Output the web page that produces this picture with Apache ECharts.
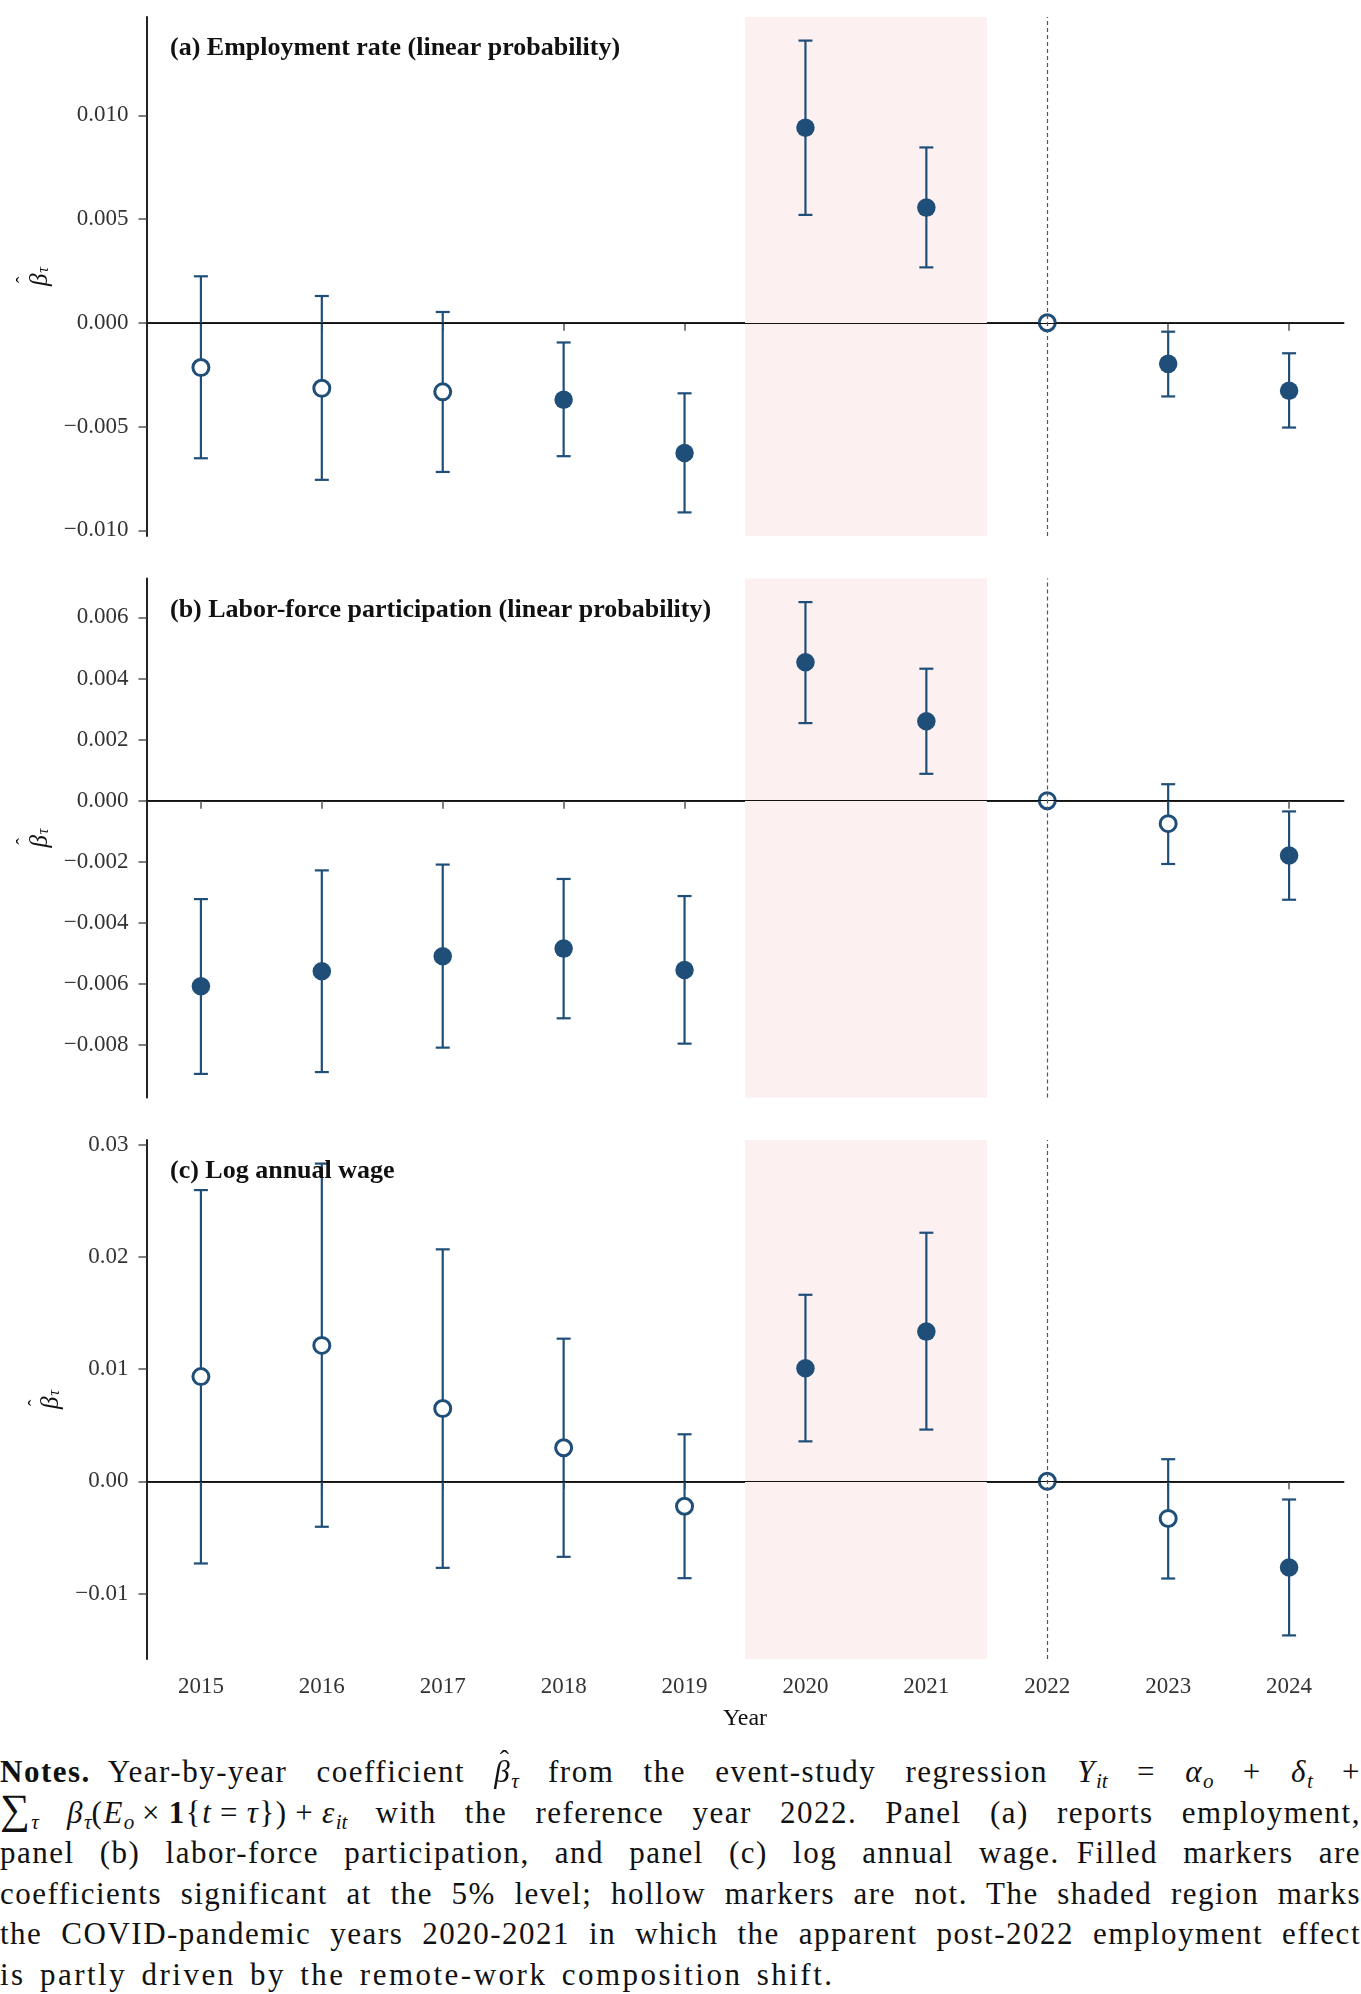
<!DOCTYPE html>
<html>
<head>
<meta charset="utf-8">
<script src="https://cdn.jsdelivr.net/npm/echarts@6/dist/echarts.min.js"></script>
<style>
body { margin: 0; background: #fff; }
#eventStudyChart { position: absolute; left: 0; top: 0; width: 1361px; height: 1745px; }
#notes { position: absolute; left: 0; top: 1752px; width: 1361px; font-family: 'Liberation Serif', serif; font-size: 31px; line-height: 40.6px; color: #111; letter-spacing: 1.5px; word-spacing: 4px; }
#notes .ln { white-space: nowrap; text-align: justify; text-align-last: justify; height: 40.6px; }
#notes .ln.last { text-align-last: left; letter-spacing: 2.5px; }
#notes sub { font-size: 0.68em; line-height: 0; vertical-align: -0.3em; letter-spacing: 0; }
#notes .sum { font-size: 1.35em; line-height: 0; }
#notes .hat { position: relative; display: inline-block; }
#notes .hc { position: absolute; left: 0.2em; top: -0.42em; font-size: 0.9em; }
</style>
</head>
<body>
<div id="eventStudyChart"></div>
<div id="notes">
  <div class="ln"><b>Notes.</b>&ensp;Year-by-year coefficient <span class="hat"><i>β</i><span class="hc">ˆ</span></span><sub><i>τ</i></sub> from the event-study regression <i>Y</i><sub><i>it</i></sub> = <i>α</i><sub><i>o</i></sub> + <i>δ</i><sub><i>t</i></sub> +</div>
  <div class="ln"><span class="sum">∑</span><sub><i>τ</i></sub> <i>β</i><sub><i>τ</i></sub>(<i>E</i><sub><i>o</i></sub>&thinsp;×&thinsp;<b>1</b>{<i>t</i>&thinsp;=&thinsp;<i>τ</i>})&thinsp;+&thinsp;<i>ε</i><sub><i>it</i></sub> with the reference year 2022. Panel (a) reports employment,</div>
  <div class="ln">panel (b) labor-force participation, and panel (c) log annual wage.&ensp;Filled markers are</div>
  <div class="ln">coefficients significant at the 5% level; hollow markers are not. The shaded region marks</div>
  <div class="ln">the COVID-pandemic years 2020-2021 in which the apparent post-2022 employment effect</div>
  <div class="ln last">is partly driven by the remote-work composition shift.</div>
</div>
<script>
var years = [2015, 2016, 2017, 2018, 2019, 2020, 2021, 2022, 2023, 2024];

// (a) employment rate
var empCoef = [-0.00216, -0.00316, -0.00333, -0.00371, -0.00628, 0.0094, 0.00555, 0, -0.00198, -0.00328];
var empLo = [-0.00653, -0.00757, -0.00719, -0.00643, -0.00914, 0.0052, 0.00267, null, -0.00355, -0.00505];
var empHi = [0.00224, 0.00129, 0.00052, -0.00095, -0.0034, 0.0136, 0.00845, null, -0.00043, -0.00147];
var empSig = [0, 0, 0, 1, 1, 1, 1, 0, 1, 1];
var empTicks = [-0.010, -0.005, 0, 0.005, 0.010];
var empTickLabels = ['\u22120.010', '\u22120.005', '0.000', '0.005', '0.010'];

// (b) labor-force participation
var lfpCoef = [-0.00607, -0.00558, -0.00509, -0.00484, -0.00554, 0.00453, 0.0026, 0, -0.00075, -0.00179];
var lfpLo = [-0.00894, -0.00888, -0.00808, -0.00712, -0.00795, 0.00254, 0.00088, null, -0.00207, -0.00324];
var lfpHi = [-0.00322, -0.00228, -0.00209, -0.00256, -0.00312, 0.0065, 0.00432, null, 0.00054, -0.00035];
var lfpSig = [1, 1, 1, 1, 1, 1, 1, 0, 0, 1];
var lfpTicks = [-0.008, -0.006, -0.004, -0.002, 0, 0.002, 0.004, 0.006];
var lfpTickLabels = ['\u22120.008', '\u22120.006', '\u22120.004', '\u22120.002', '0.000', '0.002', '0.004', '0.006'];

// (c) log annual wage
var wageCoef = [0.00933, 0.01211, 0.00648, 0.00299, -0.00222, 0.01007, 0.01334, 0, -0.00331, -0.00768];
var wageLo = [-0.00732, -0.00405, -0.00771, -0.00673, -0.00863, 0.00356, 0.00461, null, -0.00866, -0.01373];
var wageHi = [0.02595, 0.02831, 0.02067, 0.01271, 0.00419, 0.01662, 0.02215, null, 0.00197, -0.00162];
var wageSig = [0, 0, 0, 0, 0, 1, 1, 0, 0, 1];
var wageTicks = [-0.01, 0, 0.01, 0.02, 0.03];
var wageTickLabels = ['\u22120.01', '0.00', '0.01', '0.02', '0.03'];

var panelTitles = ['(a) Employment rate (linear probability)', '(b) Labor-force participation (linear probability)', '(c) Log annual wage'];
var covidStart = 2019.5, covidEnd = 2021.5, refYear = 2022;

var BLUE = '#1f4e79';
var SERIF = "'Liberation Serif', 'Times New Roman', serif";
var gridTops = [17, 578.5, 1140];
var gridHeight = 519;

var yRange = function (lo, hi, coef) {
    var all = lo.concat(hi, coef).filter(function (v) { return v !== null; });
    var a = Math.min.apply(null, all), b = Math.max.apply(null, all);
    var pad = (b - a) * 0.05;
    return [a - pad, b + pad];
};

var renderErrorBar = function (params, api) {
    var top = api.coord([api.value(0), api.value(2)]);
    var bot = api.coord([api.value(0), api.value(1)]);
    var hw = 7;
    var style = { stroke: BLUE, lineWidth: 2.2, fill: null };
    return {
        type: 'group',
        children: [
            { type: 'line', shape: { x1: top[0], y1: top[1], x2: bot[0], y2: bot[1] }, style: style },
            { type: 'line', shape: { x1: top[0] - hw, y1: top[1], x2: top[0] + hw, y2: top[1] }, style: style },
            { type: 'line', shape: { x1: bot[0] - hw, y1: bot[1], x2: bot[0] + hw, y2: bot[1] }, style: style }
        ]
    };
};

var panels = [
    { coef: empCoef, lo: empLo, hi: empHi, sig: empSig, ticks: empTicks, labels: empTickLabels },
    { coef: lfpCoef, lo: lfpLo, hi: lfpHi, sig: lfpSig, ticks: lfpTicks, labels: lfpTickLabels },
    { coef: wageCoef, lo: wageLo, hi: wageHi, sig: wageSig, ticks: wageTicks, labels: wageTickLabels }
];

var option = {
    animation: false,
    backgroundColor: '#fff',
    title: [],
    grid: [],
    xAxis: [],
    yAxis: [],
    series: []
};

panels.forEach(function (p, k) {
    var range = yRange(p.lo, p.hi, p.coef);
    var isBottom = k === panels.length - 1;
    option.title.push({
        text: panelTitles[k],
        left: 170,
        top: gridTops[k] + 18.5,
        padding: 0,
        textStyle: { fontFamily: SERIF, fontWeight: 'bold', fontSize: 26, color: '#111' }
    });
    option.grid.push({ left: 146.5, right: 17.5, top: gridTops[k], height: gridHeight });
    option.xAxis.push({
        type: 'value',
        gridIndex: k,
        min: 2014.55,
        max: 2024.45,
        name: isBottom ? 'Year' : '',
        nameLocation: 'middle',
        nameGap: 48,
        nameTextStyle: { fontFamily: SERIF, fontSize: 24, color: '#111' },
        axisLine: { lineStyle: { color: '#222', width: 2 } },
        axisTick: { customValues: years, length: 8, lineStyle: { color: '#555', width: 1.5 } },
        axisLabel: {
            show: isBottom,
            customValues: years,
            margin: 16,
            fontFamily: SERIF,
            fontSize: 23,
            color: '#333',
            formatter: function (v) { return String(Math.round(v)); }
        },
        splitLine: { show: false }
    });
    option.yAxis.push({
        type: 'value',
        gridIndex: k,
        min: range[0],
        max: range[1],
        name: '{h|ˆ}\n{b|β}{s|τ}',
        nameLocation: 'middle',
        nameRotate: 90,
        nameGap: 82,
        nameTextStyle: {
            rich: {
                h: { fontFamily: SERIF, fontSize: 20, lineHeight: 7, color: '#111', padding: [0, 7, 0, 0] },
                b: { fontFamily: SERIF, fontStyle: 'italic', fontSize: 25, lineHeight: 22, color: '#111' },
                s: { fontFamily: SERIF, fontStyle: 'italic', fontSize: 16, lineHeight: 22, color: '#111', verticalAlign: 'bottom', padding: [8, 0, 0, 1] }
            }
        },
        axisLine: { show: true, lineStyle: { color: '#222', width: 2 } },
        axisTick: { show: true, customValues: p.ticks, length: 8, lineStyle: { color: '#555', width: 1.5 } },
        axisLabel: {
            customValues: p.ticks,
            margin: 18,
            fontFamily: SERIF,
            fontSize: 23,
            color: '#333',
            formatter: function (v) {
                for (var i = 0; i < p.ticks.length; i++) {
                    if (Math.abs(p.ticks[i] - v) < 1e-9) return p.labels[i];
                }
                return '';
            }
        },
        splitLine: { show: false }
    });

    var bars = [], filled = [], hollow = [];
    years.forEach(function (y, i) {
        if (p.lo[i] !== null) bars.push([y, p.lo[i], p.hi[i]]);
        if (p.sig[i]) filled.push([y, p.coef[i]]);
        else hollow.push([y, p.coef[i]]);
    });

    option.series.push({
        type: 'line', xAxisIndex: k, yAxisIndex: k, data: [], z: 0, silent: true,
        markArea: {
            silent: true,
            itemStyle: { color: '#fdf0f0' },
            data: [[{ xAxis: covidStart }, { xAxis: covidEnd }]]
        }
    });
    option.series.push({
        type: 'line', xAxisIndex: k, yAxisIndex: k, data: [], z: 1, silent: true,
        markLine: {
            silent: true,
            symbol: 'none',
            label: { show: false },
            data: [
                { yAxis: 0, lineStyle: { color: '#111', width: 1.2, type: 'solid' } },
                { xAxis: refYear, lineStyle: { color: '#555', width: 1.2, type: [4, 3] } }
            ]
        }
    });
    option.series.push({
        type: 'custom', xAxisIndex: k, yAxisIndex: k, z: 2,
        renderItem: renderErrorBar,
        encode: { x: 0, y: [1, 2] },
        data: bars
    });
    option.series.push({
        type: 'scatter', xAxisIndex: k, yAxisIndex: k, z: 3,
        symbol: 'circle', symbolSize: 18.5,
        itemStyle: { color: BLUE, opacity: 1 },
        data: filled
    });
    option.series.push({
        type: 'scatter', xAxisIndex: k, yAxisIndex: k, z: 3,
        symbol: 'circle', symbolSize: 16,
        itemStyle: { color: '#fff', borderColor: BLUE, borderWidth: 3, opacity: 1 },
        data: hollow
    });
});

var chart = echarts.init(document.getElementById('eventStudyChart'));
chart.setOption(option);
</script>
</body>
</html>
